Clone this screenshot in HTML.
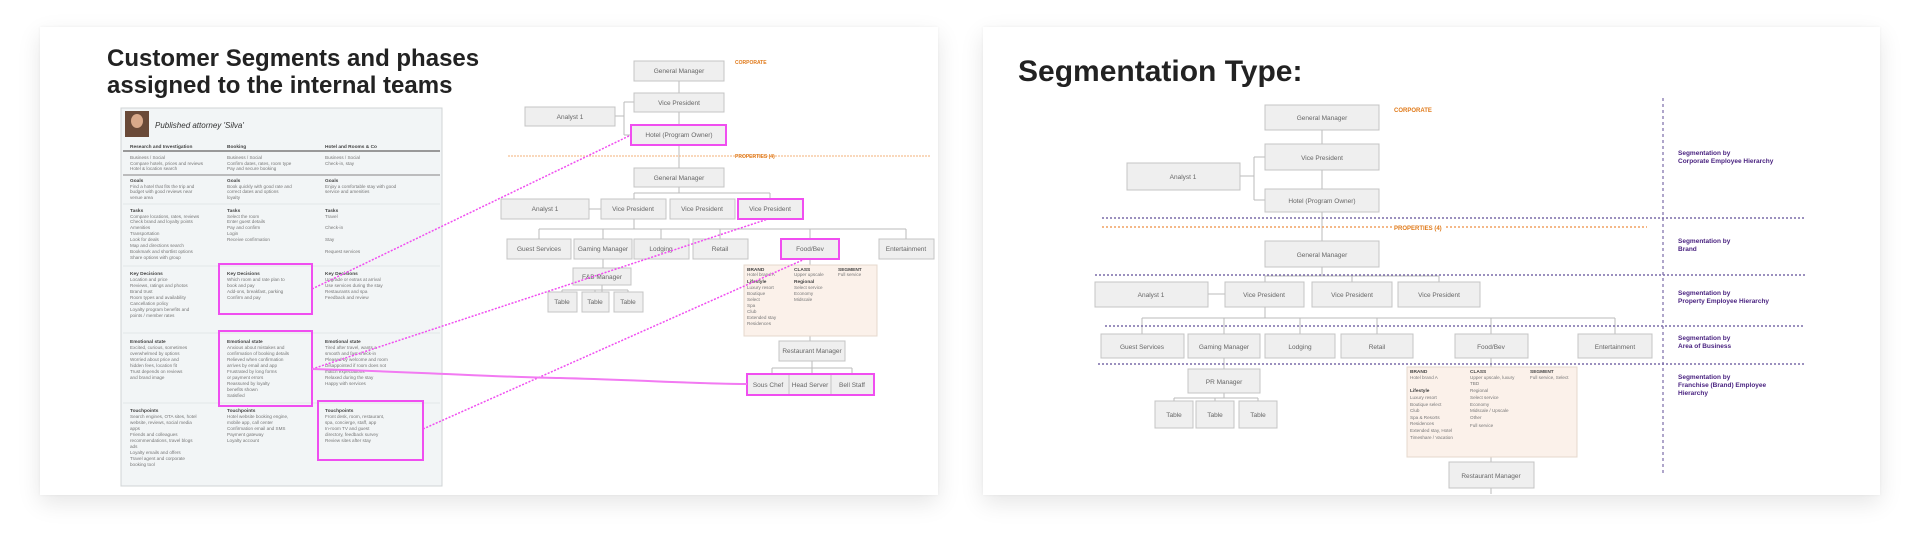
<!DOCTYPE html>
<html><head><meta charset="utf-8"><style>
html,body{margin:0;padding:0;background:#fff;width:1920px;height:546px;overflow:hidden}
.card{position:absolute;background:#fff;box-shadow:0 8px 22px rgba(0,0,0,0.10),0 0 3px rgba(0,0,0,0.05)}
svg{position:absolute;left:0;top:0}
text{font-family:"Liberation Sans",sans-serif}
.b{fill:#efefef;stroke:#c4c4c4;stroke-width:1}
.bt{font-size:6.5px;fill:#666;text-anchor:middle}
.m{fill:none;stroke:#f04ef0;stroke-width:2}
.t{font-size:4.6px;fill:#777}
.th{font-size:4.8px;fill:#444;font-weight:bold}
.pl{font-size:6.5px;fill:#4a2380;font-weight:bold}
.c{stroke:#bbb;stroke-width:1;fill:none}
</style></head><body>
<div class="card" style="left:40px;top:27px;width:898px;height:468px"></div>
<div class="card" style="left:983px;top:27px;width:897px;height:468px"></div>
<svg width="1920" height="546" viewBox="0 0 1920 546">
<!-- LEFT CARD -->
<text x="107" y="66" font-size="24" font-weight="bold" fill="#222">Customer Segments and phases</text>
<text x="107" y="93" font-size="24" font-weight="bold" fill="#222">assigned to the internal teams</text>
<rect x="121" y="108" width="321" height="378" fill="#f2f5f6" stroke="#d0d4d6"/>
<rect x="125" y="111" width="24" height="26" fill="#6a4a38"/>
<ellipse cx="137" cy="121" rx="6" ry="7" fill="#d9a98a"/>
<text x="155" y="128" font-size="8" font-style="italic" fill="#333">Published attorney 'Silva'</text>
<text x="130" y="148" class="th">Research and Investigation</text>
<text x="227" y="148" class="th">Booking</text>
<text x="325" y="148" class="th">Hotel and Rooms &amp; Co</text>
<line x1="123" y1="151" x2="440" y2="151" stroke="#999" stroke-width="2"/>
<g class="t">
<text x="130" y="159">Business / Social</text><text x="130" y="165">Compare hotels, prices and reviews</text><text x="130" y="170">Hotel &amp; location search</text>
<text x="227" y="159">Business / Social</text><text x="227" y="165">Confirm dates, rates, room type</text><text x="227" y="170">Pay and secure booking</text>
<text x="325" y="159">Business / Social</text><text x="325" y="165">Check-in, stay</text>
</g>
<line x1="123" y1="175" x2="440" y2="175" stroke="#aaa" stroke-width="1.5"/>
<g class="t">
<text x="130" y="182" class="th">Goals</text><text x="130" y="188">Find a hotel that fits the trip and</text><text x="130" y="193">budget with good reviews near</text><text x="130" y="199">venue area</text>
<text x="227" y="182" class="th">Goals</text><text x="227" y="188">Book quickly with good rate and</text><text x="227" y="193">correct dates and options</text><text x="227" y="199">loyalty</text>
<text x="325" y="182" class="th">Goals</text><text x="325" y="188">Enjoy a comfortable stay with good</text><text x="325" y="193">service and amenities</text>
<text x="130" y="212" class="th">Tasks</text><text x="130" y="218">Compare locations, rates, reviews</text><text x="130" y="223">Check brand and loyalty points</text><text x="130" y="229">Amenities</text><text x="130" y="235">Transportation</text><text x="130" y="241">Look for deals</text><text x="130" y="247">Map and directions search</text><text x="130" y="253">Bookmark and shortlist options</text><text x="130" y="259">Share options with group</text>
<text x="227" y="212" class="th">Tasks</text><text x="227" y="218">Select the room</text><text x="227" y="223">Enter guest details</text><text x="227" y="229">Pay and confirm</text><text x="227" y="235">Login</text><text x="227" y="241">Receive confirmation</text>
<text x="325" y="212" class="th">Tasks</text><text x="325" y="218">Travel</text><text x="325" y="229">Check-in</text><text x="325" y="241">Stay</text><text x="325" y="253">Request services</text>
<text x="130" y="275" class="th">Key Decisions</text><text x="130" y="281">Location and price</text><text x="130" y="287">Reviews, ratings and photos</text><text x="130" y="293">Brand trust</text><text x="130" y="299">Room types and availability</text><text x="130" y="305">Cancellation policy</text><text x="130" y="311">Loyalty program benefits and</text><text x="130" y="317">points / member rates</text>
<text x="227" y="275" class="th">Key Decisions</text><text x="227" y="281">Which room and rate plan to</text><text x="227" y="287">book and pay</text><text x="227" y="293">Add-ons, breakfast, parking</text><text x="227" y="299">Confirm and pay</text>
<text x="325" y="275" class="th">Key Decisions</text><text x="325" y="281">Upgrade or extras at arrival</text><text x="325" y="287">Use services during the stay</text><text x="325" y="293">Restaurants and spa</text><text x="325" y="299">Feedback and review</text>
<text x="130" y="343" class="th">Emotional state</text><text x="130" y="349">Excited, curious, sometimes</text><text x="130" y="355">overwhelmed by options</text><text x="130" y="361">Worried about price and</text><text x="130" y="367">hidden fees, location fit</text><text x="130" y="373">Trust depends on reviews</text><text x="130" y="379">and brand image</text>
<text x="227" y="343" class="th">Emotional state</text><text x="227" y="349">Anxious about mistakes and</text><text x="227" y="355">confirmation of booking details</text><text x="227" y="361">Relieved when confirmation</text><text x="227" y="367">arrives by email and app</text><text x="227" y="373">Frustrated by long forms</text><text x="227" y="379">or payment errors</text><text x="227" y="385">Reassured by loyalty</text><text x="227" y="391">benefits shown</text><text x="227" y="397">Satisfied</text>
<text x="325" y="343" class="th">Emotional state</text><text x="325" y="349">Tired after travel, wants a</text><text x="325" y="355">smooth and fast check-in</text><text x="325" y="361">Pleased by welcome and room</text><text x="325" y="367">Disappointed if room does not</text><text x="325" y="373">match expectations</text><text x="325" y="379">Relaxed during the stay</text><text x="325" y="385">Happy with services</text>
<text x="130" y="412" class="th">Touchpoints</text><text x="130" y="418">Search engines, OTA sites, hotel</text><text x="130" y="424">website, reviews, social media</text><text x="130" y="430">apps</text><text x="130" y="436">Friends and colleagues</text><text x="130" y="442">recommendations, travel blogs</text><text x="130" y="448">ads</text><text x="130" y="454">Loyalty emails and offers</text><text x="130" y="460">Travel agent and corporate</text><text x="130" y="466">booking tool</text>
<text x="227" y="412" class="th">Touchpoints</text><text x="227" y="418">Hotel website booking engine,</text><text x="227" y="424">mobile app, call center</text><text x="227" y="430">Confirmation email and SMS</text><text x="227" y="436">Payment gateway</text><text x="227" y="442">Loyalty account</text>
<text x="325" y="412" class="th">Touchpoints</text><text x="325" y="418">Front desk, room, restaurant,</text><text x="325" y="424">spa, concierge, staff, app</text><text x="325" y="430">In-room TV and guest</text><text x="325" y="436">directory, feedback survey</text><text x="325" y="442">Review sites after stay</text>
</g>
<line x1="123" y1="204" x2="440" y2="204" stroke="#e2e6e8"/>
<line x1="123" y1="266" x2="440" y2="266" stroke="#e2e6e8"/>
<line x1="123" y1="333" x2="440" y2="333" stroke="#e2e6e8"/>
<line x1="123" y1="403" x2="440" y2="403" stroke="#e2e6e8"/>
<rect x="219" y="264" width="93" height="50" class="m"/>
<rect x="219" y="331" width="93" height="75" class="m"/>
<rect x="318" y="401" width="105" height="59" class="m"/>

<!-- left org chart -->
<g class="c">
<line x1="679" y1="81" x2="679" y2="168"/>
<path d="M615 116 H624 M624 102 V135 M624 102 H634 M624 135 H631"/>
<path d="M679 187 V193 M634 193 H770 M634 193 V199 M770 193 V199 M589 209 H601"/>
<path d="M634 219 V229 M539 229 H906 M539 229 V239 M603 229 V239 M661 229 V239 M720 229 V239 M810 229 V239 M906 229 V239"/>
<path d="M603 259 V268 M602 285 V292 M562 290 H628 M562 290 V292 M595 290 V292 M628 290 V292"/>
<path d="M810 259 V265 M810 336 V341 M812 361 V374 M772 368 H852 M772 368 V374 M852 368 V374"/>
</g>
<rect x="634" y="61" width="90" height="20" class="b"/><text x="679" y="73" class="bt">General Manager</text>
<text x="735" y="64" font-size="5" fill="#e07a1a" font-weight="bold">CORPORATE</text>
<rect x="634" y="93" width="90" height="19" class="b"/><text x="679" y="105" class="bt">Vice President</text>
<rect x="525" y="107" width="90" height="19" class="b"/><text x="570" y="119" class="bt">Analyst 1</text>
<rect x="631" y="125" width="95" height="20" class="b"/><rect x="631" y="125" width="95" height="20" class="m"/><text x="679" y="137" class="bt">Hotel (Program Owner)</text>
<line x1="508" y1="156" x2="931" y2="156" stroke="#f3b27a" stroke-width="1" stroke-dasharray="2,1"/>
<text x="735" y="158" font-size="5" fill="#e07a1a" font-weight="bold">PROPERTIES (4)</text>
<rect x="634" y="168" width="90" height="19" class="b"/><text x="679" y="180" class="bt">General Manager</text>
<rect x="501" y="199" width="88" height="20" class="b"/><text x="545" y="211" class="bt">Analyst 1</text>
<rect x="601" y="199" width="65" height="20" class="b"/><text x="633" y="211" class="bt">Vice President</text>
<rect x="670" y="199" width="65" height="20" class="b"/><text x="702" y="211" class="bt">Vice President</text>
<rect x="738" y="199" width="65" height="20" class="b"/><rect x="738" y="199" width="65" height="20" class="m"/><text x="770" y="211" class="bt">Vice President</text>
<rect x="507" y="239" width="64" height="20" class="b"/><text x="539" y="251" class="bt">Guest Services</text>
<rect x="574" y="239" width="58" height="20" class="b"/><text x="603" y="251" class="bt">Gaming Manager</text>
<rect x="634" y="239" width="55" height="20" class="b"/><text x="661" y="251" class="bt">Lodging</text>
<rect x="693" y="239" width="55" height="20" class="b"/><text x="720" y="251" class="bt">Retail</text>
<rect x="781" y="239" width="58" height="20" class="b"/><rect x="781" y="239" width="58" height="20" class="m"/><text x="810" y="251" class="bt">Food/Bev</text>
<rect x="879" y="239" width="55" height="20" class="b"/><text x="906" y="251" class="bt">Entertainment</text>
<rect x="573" y="268" width="58" height="17" class="b"/><text x="602" y="279" class="bt">F&amp;B Manager</text>
<rect x="548" y="292" width="29" height="20" class="b"/><text x="562" y="304" class="bt">Table</text>
<rect x="582" y="292" width="27" height="20" class="b"/><text x="595" y="304" class="bt">Table</text>
<rect x="614" y="292" width="29" height="20" class="b"/><text x="628" y="304" class="bt">Table</text>
<rect x="744" y="265" width="133" height="71" fill="#fbf1ea" stroke="#e6d8cc"/>
<g class="t"><text x="747" y="271" class="th">BRAND</text><text x="747" y="276">Hotel brand A</text><text x="747" y="283" class="th">Lifestyle</text><text x="747" y="289">Luxury resort</text><text x="747" y="295">Boutique</text><text x="747" y="301">Select</text><text x="747" y="307">Spa</text><text x="747" y="313">Club</text><text x="747" y="319">Extended stay</text><text x="747" y="325">Residences</text>
<text x="794" y="271" class="th">CLASS</text><text x="794" y="276">Upper upscale</text><text x="794" y="283" class="th">Regional</text><text x="794" y="289">Select service</text><text x="794" y="295">Economy</text><text x="794" y="301">Midscale</text>
<text x="838" y="271" class="th">SEGMENT</text><text x="838" y="276">Full service</text></g>
<rect x="779" y="341" width="66" height="20" class="b"/><text x="812" y="353" class="bt">Restaurant Manager</text>
<rect x="747" y="374" width="42" height="21" class="b"/><text x="768" y="387" class="bt">Sous Chef</text>
<rect x="789" y="374" width="42" height="21" class="b"/><text x="810" y="387" class="bt">Head Server</text>
<rect x="831" y="374" width="43" height="21" class="b"/><text x="852" y="387" class="bt">Bell Staff</text>
<rect x="747" y="374" width="127" height="21" class="m"/>
<!-- magenta connectors -->
<line x1="312" y1="289" x2="631" y2="135" stroke="#f04ef0" stroke-width="1.5" stroke-dasharray="2,1.5"/>
<line x1="312" y1="369" x2="768" y2="219" stroke="#f04ef0" stroke-width="1.5" stroke-dasharray="2,1.5"/>
<line x1="423" y1="429" x2="805" y2="259" stroke="#f04ef0" stroke-width="1.5" stroke-dasharray="2,1.5"/>
<path d="M312 369 C420 372 520 378 560 378 C640 380 700 384 747 384" fill="none" stroke="#f27af2" stroke-width="2"/>

<!-- RIGHT CARD -->
<text x="1018" y="81" font-size="30" font-weight="bold" fill="#222">Segmentation Type:</text>
<g class="c">
<line x1="1322" y1="130" x2="1322" y2="241"/>
<path d="M1240 176 H1254 M1254 157 V200 M1254 157 H1265 M1254 200 H1265"/>
<path d="M1322 267 V276 M1265 276 H1439 M1265 276 V282 M1352 276 V282 M1439 276 V282 M1208 294 H1225"/>
<path d="M1265 307 V318 M1142 318 H1615 M1142 318 V334 M1224 318 V334 M1300 318 V334 M1377 318 V334 M1491 318 V334 M1615 318 V334"/>
<path d="M1224 358 V369 M1224 393 V398 M1174 398 H1258 M1174 398 V401 M1215 398 V401 M1258 398 V401"/>
<path d="M1491 358 V367 M1491 457 V462 M1491 488 V494"/>
</g>
<rect x="1265" y="105" width="114" height="25" class="b"/><text x="1322" y="120" class="bt">General Manager</text>
<text x="1394" y="112" font-size="6" fill="#e07a1a" font-weight="bold">CORPORATE</text>
<rect x="1265" y="144" width="114" height="26" class="b"/><text x="1322" y="160" class="bt">Vice President</text>
<rect x="1127" y="163" width="113" height="27" class="b"/><text x="1183" y="179" class="bt">Analyst 1</text>
<rect x="1265" y="189" width="114" height="23" class="b"/><text x="1322" y="203" class="bt">Hotel (Program Owner)</text>
<line x1="1102" y1="218" x2="1805" y2="218" stroke="#7a6ca8" stroke-width="1.5" stroke-dasharray="2,2"/>
<line x1="1102" y1="227" x2="1647" y2="227" stroke="#f0a060" stroke-width="1.5" stroke-dasharray="2,2"/>
<rect x="1392" y="222" width="52" height="9" fill="#fff"/>
<text x="1394" y="230" font-size="6" fill="#e07a1a" font-weight="bold">PROPERTIES (4)</text>
<rect x="1265" y="241" width="114" height="26" class="b"/><text x="1322" y="257" class="bt">General Manager</text>
<line x1="1095" y1="275" x2="1805" y2="275" stroke="#7a6ca8" stroke-width="1.5" stroke-dasharray="2,2"/>
<rect x="1095" y="282" width="113" height="25" class="b"/><text x="1151" y="297" class="bt">Analyst 1</text>
<rect x="1225" y="282" width="79" height="25" class="b"/><text x="1264" y="297" class="bt">Vice President</text>
<rect x="1312" y="282" width="80" height="25" class="b"/><text x="1352" y="297" class="bt">Vice President</text>
<rect x="1398" y="282" width="82" height="25" class="b"/><text x="1439" y="297" class="bt">Vice President</text>
<line x1="1105" y1="326" x2="1805" y2="326" stroke="#7a6ca8" stroke-width="1.5" stroke-dasharray="2,2"/>
<rect x="1101" y="334" width="83" height="24" class="b"/><text x="1142" y="349" class="bt">Guest Services</text>
<rect x="1188" y="334" width="72" height="24" class="b"/><text x="1224" y="349" class="bt">Gaming Manager</text>
<rect x="1265" y="334" width="70" height="24" class="b"/><text x="1300" y="349" class="bt">Lodging</text>
<rect x="1341" y="334" width="72" height="24" class="b"/><text x="1377" y="349" class="bt">Retail</text>
<rect x="1455" y="334" width="73" height="24" class="b"/><text x="1491" y="349" class="bt">Food/Bev</text>
<rect x="1578" y="334" width="74" height="24" class="b"/><text x="1615" y="349" class="bt">Entertainment</text>
<line x1="1098" y1="364" x2="1805" y2="364" stroke="#7a6ca8" stroke-width="1.5" stroke-dasharray="2,2"/>
<rect x="1188" y="369" width="72" height="24" class="b"/><text x="1224" y="384" class="bt">PR Manager</text>
<rect x="1155" y="401" width="38" height="27" class="b"/><text x="1174" y="417" class="bt">Table</text>
<rect x="1196" y="401" width="38" height="27" class="b"/><text x="1215" y="417" class="bt">Table</text>
<rect x="1239" y="401" width="38" height="27" class="b"/><text x="1258" y="417" class="bt">Table</text>
<rect x="1407" y="367" width="170" height="90" fill="#fbf1ea" stroke="#e6d8cc"/>
<g class="t"><text x="1410" y="373" class="th">BRAND</text><text x="1410" y="379">Hotel brand A</text><text x="1410" y="392" class="th">Lifestyle</text><text x="1410" y="399">Luxury resort</text><text x="1410" y="406">Boutique select</text><text x="1410" y="412">Club</text><text x="1410" y="419">Spa &amp; Resorts</text><text x="1410" y="425">Residences</text><text x="1410" y="432">Extended stay, Hotel</text><text x="1410" y="439">Timeshare / Vacation</text>
<text x="1470" y="373" class="th">CLASS</text><text x="1470" y="379">Upper upscale, luxury</text><text x="1470" y="385">TBD</text><text x="1470" y="392">Regional</text><text x="1470" y="399">Select service</text><text x="1470" y="406">Economy</text><text x="1470" y="412">Midscale / Upscale</text><text x="1470" y="419">Other</text><text x="1470" y="427">Full service</text>
<text x="1530" y="373" class="th">SEGMENT</text><text x="1530" y="379">Full service, Select</text></g>
<rect x="1449" y="462" width="85" height="26" class="b"/><text x="1491" y="478" class="bt">Restaurant Manager</text>
<line x1="1663" y1="98" x2="1663" y2="476" stroke="#7a6ca8" stroke-width="1.2" stroke-dasharray="3,3"/>
<text x="1678" y="155" class="pl">Segmentation by</text><text x="1678" y="163" class="pl">Corporate Employee Hierarchy</text>
<text x="1678" y="243" class="pl">Segmentation by</text><text x="1678" y="251" class="pl">Brand</text>
<text x="1678" y="295" class="pl">Segmentation by</text><text x="1678" y="303" class="pl">Property Employee Hierarchy</text>
<text x="1678" y="340" class="pl">Segmentation by</text><text x="1678" y="348" class="pl">Area of Business</text>
<text x="1678" y="379" class="pl">Segmentation by</text><text x="1678" y="387" class="pl">Franchise (Brand) Employee</text><text x="1678" y="395" class="pl">Hierarchy</text>
</svg>
</body></html>
